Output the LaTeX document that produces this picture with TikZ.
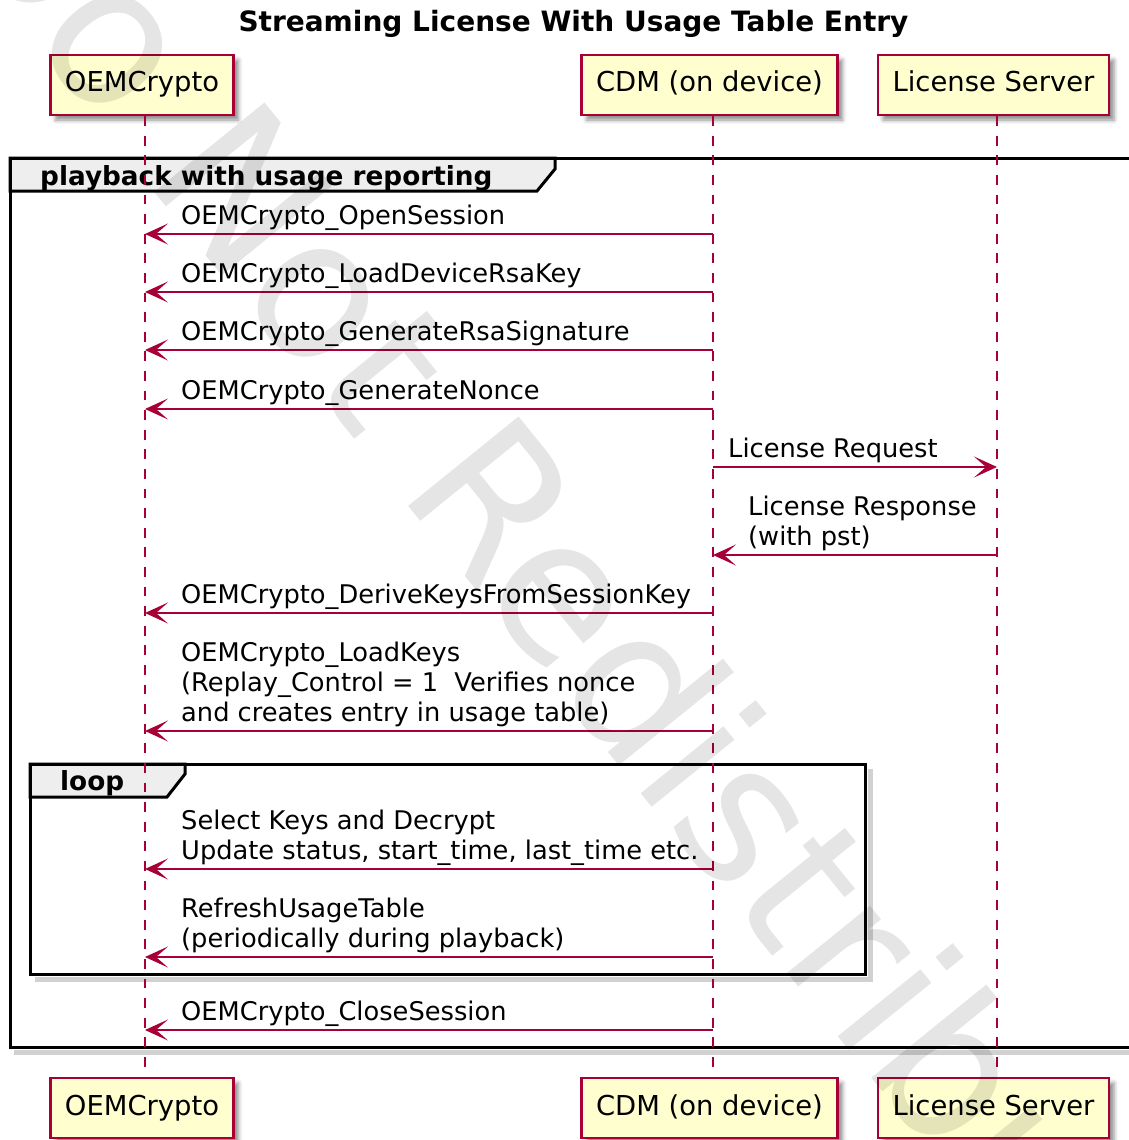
\documentclass[tikz,border=0pt]{standalone}
\usepackage{fontspec}
\setmainfont{DejaVu Sans}
\usetikzlibrary{arrows.meta,shadows.blur,calc}
\definecolor{pborder}{HTML}{A80036}
\definecolor{pfill}{HTML}{FEFECE}
\definecolor{tabfill}{HTML}{EEEEEE}
\newcommand\msgfont{\fontsize{25.7}{30}\selectfont}
\newcommand\partfont{\fontsize{27.4}{32}\selectfont}
\newcommand\ttlfont{\fontsize{28}{32}\selectfont\bfseries}
\newcommand\grpfont{\fontsize{26.3}{30}\selectfont\bfseries}
\newcommand\wmfont{\fontsize{195}{195}\selectfont}
\begin{document}
\begin{tikzpicture}[x=1pt,y=-1pt,
  part/.style={draw=pborder, fill=pfill, line width=2.5pt, minimum height=60pt,
    inner sep=0pt, font=\partfont, text height=20pt, text depth=6pt,
    blur shadow={shadow xshift=5pt,shadow yshift=-5pt,shadow blur radius=4pt,shadow opacity=45}},
  life/.style={draw=pborder, line width=2pt, dash pattern=on 9.8pt off 9.8pt},
  msg/.style={draw=pborder, line width=2pt,
    -{Stealth[length=23pt,width=21pt,inset=12pt,color=pborder]}},
  lbl/.style={font=\msgfont, align=left, anchor=south west, inner sep=0pt, text depth=0pt},
  frame/.style={draw=black, line width=3pt},
  fshadow/.style={draw=black, opacity=0.18, line width=5pt},
  tab/.style={fill=tabfill, draw=black, line width=3pt, line join=miter},
  grplbl/.style={font=\grpfont, anchor=base west, inner sep=0pt},
  wm/.style={font=\wmfont, text=black, text opacity=0.1, rotate=-51, anchor=base west, inner sep=0pt}
]
\useasboundingbox (0,0) rectangle (1129,1140);

% title
\node[font=\ttlfont, anchor=base, inner sep=0pt] (title) at (573.5,32) {Streaming License With Usage Table Entry};

% lifeline x positions
\coordinate (oemX) at (145,0);
\coordinate (cdmX) at (713,0);
\coordinate (lsX) at (997,0);

% group frame shadows
\draw[fshadow] (14,1052) -- (1140,1052);
\draw[fshadow] (35,979) -- (870,979) -- (870,769);

% group frame
\draw[tab] (10,158) -- (555,158) -- (555,169) -- (537,191) -- (10,191) -- cycle;
\draw[frame] (10,158) rectangle (1145,1047);
\node[grplbl] (grp) at (40,185.5) {playback with usage reporting};

% loop frame
\draw[tab] (30,764) -- (185,764) -- (185,774) -- (167,797) -- (30,797) -- cycle;
\draw[frame] (30,764) rectangle (865,974);
\node[grplbl] (loopl) at (60,790) {loop};

% participants
\node[part, minimum width=183pt] (oemT) at (142,85) {OEMCrypto};
\node[part, minimum width=256pt] (cdmT) at (709.5,85) {CDM (on device)};
\node[part, minimum width=231pt] (lsT) at (993.5,85) {License Server};
\node[part, minimum width=183pt] (oemB) at (142,1108) {OEMCrypto};
\node[part, minimum width=256pt] (cdmB) at (709.5,1108) {CDM (on device)};
\node[part, minimum width=231pt] (lsB) at (993.5,1108) {License Server};

% lifelines
\draw[life] (oemT.south -| oemX) -- (oemB.north -| oemX);
\draw[life] (cdmT.south -| cdmX) -- (cdmB.north -| cdmX);
\draw[life] (lsT.south -| lsX) -- (lsB.north -| lsX);

% message rows
\coordinate (r1) at (0,234);
\coordinate (r2) at (0,292);
\coordinate (r3) at (0,350);
\coordinate (r4) at (0,409);
\coordinate (r5) at (0,467);
\coordinate (r6) at (0,555);
\coordinate (r7) at (0,613);
\coordinate (r8) at (0,731);
\coordinate (r9) at (0,869);
\coordinate (r10) at (0,957);
\coordinate (r11) at (0,1030);

\draw[msg] (cdmX |- r1) -- (oemX |- r1);
\node[lbl] (t1) at (181,225) {OEMCrypto\_OpenSession};
\draw[msg] (cdmX |- r2) -- (oemX |- r2);
\node[lbl] (t2) at (181,283) {OEMCrypto\_LoadDeviceRsaKey};
\draw[msg] (cdmX |- r3) -- (oemX |- r3);
\node[lbl] (t3) at (181,341) {OEMCrypto\_GenerateRsaSignature};
\draw[msg] (cdmX |- r4) -- (oemX |- r4);
\node[lbl] (t4) at (181,400) {OEMCrypto\_GenerateNonce};
\draw[msg] (cdmX |- r5) -- (lsX |- r5);
\node[lbl] (t5) at (728,458) {License Request};
\draw[msg] (lsX |- r6) -- (cdmX |- r6);
\node[lbl] (t6) at (748,546) {License Response\\(with pst)};
\draw[msg] (cdmX |- r7) -- (oemX |- r7);
\node[lbl] (t7) at (181,604) {OEMCrypto\_DeriveKeysFromSessionKey};
\draw[msg] (cdmX |- r8) -- (oemX |- r8);
\node[lbl] (t8) at (181,722) {OEMCrypto\_LoadKeys\\(Replay\_Control = 1\ \ Verifies nonce\\and creates entry in usage table)};
\draw[msg] (cdmX |- r9) -- (oemX |- r9);
\node[lbl] (t9) at (181,860) {Select Keys and Decrypt\\Update status, start\_time, last\_time etc.};
\draw[msg] (cdmX |- r10) -- (oemX |- r10);
\node[lbl] (t10) at (181,948) {RefreshUsageTable\\(periodically during playback)};
\draw[msg] (cdmX |- r11) -- (oemX |- r11);
\node[lbl] (t11) at (181,1021) {OEMCrypto\_CloseSession};

% watermark
\node[wm] (wmark) at (-66,-80) {Do Not Redistribute};
\end{tikzpicture}
\end{document}
